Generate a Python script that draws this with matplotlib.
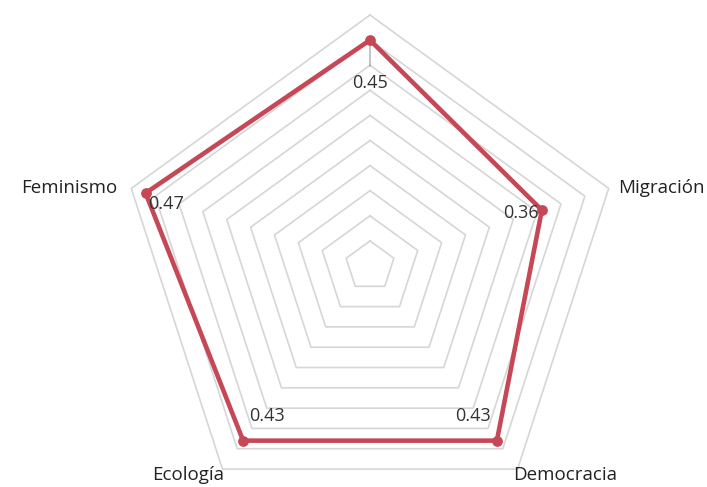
import numpy as np
import matplotlib.pyplot as plt

categories = ["", "Migración", "Democracia", "Ecología", "Feminismo"]
values = [0.45, 0.36, 0.43, 0.43, 0.47]
grid_levels = [0.05, 0.10, 0.15, 0.20, 0.25, 0.30, 0.35, 0.40, 0.45, 0.50]

# label offsets (points) for category names and value labels
cat_offsets = [(0, 10), (7, 0), (-3, 2), (1, 2), (-10, 0)]
cat_align = [("center", "bottom"), ("left", "center"), ("left", "top"),
             ("right", "top"), ("right", "center")]
val_offsets = [(0, -31), (-2, -2), (-4, 18), (4, 18), (2, -8)]
val_align = [("center", "center"), ("right", "center"), ("right", "center"),
             ("left", "center"), ("left", "center")]

plt.rcParams['font.family'] = ['Open Sans', 'DejaVu Sans']

fig = plt.figure(figsize=(7.07, 4.87), dpi=100)
ax = fig.add_axes([119 / 707, -30 / 487, 502 / 707, 502 / 487], projection='polar')
ax.set_theta_zero_location('N')
ax.set_theta_direction(-1)
ax.set_ylim(0, 0.5)
ax.grid(False)
ax.set_xticks([])
ax.set_yticks([])
ax.spines['polar'].set_visible(False)
ax.patch.set_alpha(0)

theta = np.linspace(0, 2 * np.pi, len(categories), endpoint=False)
theta_closed = np.append(theta, theta[0])

for lvl in grid_levels:
    ax.plot(theta_closed, [lvl] * len(theta_closed), color='#d6d6d6',
            linewidth=1.2, clip_on=False, zorder=1)

vals_closed = values + values[:1]
ax.plot(theta_closed, vals_closed, color='#c64756', linewidth=3.3,
        clip_on=False, zorder=3, solid_joinstyle='miter')
ax.scatter(theta, values, s=45, color='#c64756', zorder=4, clip_on=False)

for i, name in enumerate(categories):
    ha, va = cat_align[i]
    ax.annotate(name, xy=(theta[i], 0.5), xytext=cat_offsets[i],
                textcoords='offset points', ha=ha, va=va, fontsize=13.5,
                color='#222222', annotation_clip=False)

for i, v in enumerate(values):
    ha, va = val_align[i]
    ax.annotate(f"{v:.2f}", xy=(theta[i], v), xytext=val_offsets[i],
                textcoords='offset points', ha=ha, va=va, fontsize=13,
                color='#333333', annotation_clip=False, zorder=5)

# connector for the top value label
ax.annotate("", xy=(theta[0], values[0]), xytext=(0, -19),
            textcoords='offset points',
            arrowprops=dict(arrowstyle='-', color='#999999', lw=0.8,
                            shrinkA=0, shrinkB=0))

fig.savefig("out.png", dpi=100)
